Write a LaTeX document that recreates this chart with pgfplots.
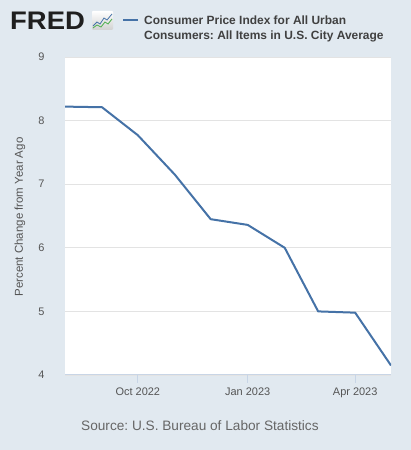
\documentclass[border=0pt]{standalone}
\usepackage{pgfplots}
\pgfplotsset{compat=1.18}
\usepackage{fontspec}
\setmainfont{Liberation Sans}
\frenchspacing
\definecolor{bgcol}{HTML}{E1E9F0}
\definecolor{linecol}{HTML}{4572A7}
\definecolor{gridcol}{HTML}{E3E3E3}
\definecolor{axcol}{HTML}{C8D5E6}
\definecolor{txtcol}{HTML}{555555}
\definecolor{legcol}{HTML}{404040}
\definecolor{srccol}{HTML}{666666}
\begin{document}
\begin{tikzpicture}
\useasboundingbox (0,0) rectangle (411bp,450bp);
\fill[bgcol] (0,0) rectangle (411bp,450bp);
% FRED logo
\node[anchor=base west, inner sep=0pt, text=black!88, font=\fontsize{25.5}{25}\selectfont\bfseries, xscale=1.08] at (10bp,420bp) {FRED};
\shade[top color=white, bottom color=black!18, rounded corners=1bp] (92bp,420bp) rectangle (113bp,439bp);
\draw[linecol, line width=0.8bp] (93bp,424bp) -- (97bp,428bp) -- (100bp,426bp) -- (104bp,432bp) -- (107bp,430bp) -- (112bp,436bp);
\draw[green!55!black!70, line width=0.8bp] (93bp,422bp) -- (97bp,425bp) -- (101bp,423bp) -- (105bp,428bp) -- (108bp,426bp) -- (112bp,431bp);
% legend
\draw[linecol, line width=2bp] (123bp,430bp) -- (138bp,430bp);
\node[anchor=base west, inner sep=0pt, text=legcol, font=\fontsize{12}{14}\selectfont\bfseries] at (144bp,425bp) {Consumer Price Index for All Urban};
\node[anchor=base west, inner sep=0pt, text=legcol, font=\fontsize{12}{14}\selectfont\bfseries] at (144bp,410.7bp) {Consumers: All Items in U.S. City Average};
% source
\node[anchor=base west, inner sep=0pt, text=srccol, font=\fontsize{13.7}{15}\selectfont] at (81bp,19.5bp) {Source: U.S. Bureau of Labor Statistics};
% y label
\node[rotate=90, anchor=center, inner sep=0pt, text=txtcol, font=\fontsize{11.5}{13}\selectfont] at (20bp,233bp) {Percent Change from Year Ago};
\begin{axis}[
  at={(65bp,75bp)}, anchor=south west,
  scale only axis, width=326bp, height=318bp,
  xmin=0, xmax=273, ymin=4, ymax=9,
  axis background/.style={fill=white},
  xtick={61,153,243},
  xticklabels={Oct 2022,Jan 2023,Apr 2023},
  ytick={4,5,6,7,8,9},
  ymajorgrids,
  grid style={gridcol, line width=0.9bp},
  axis x line*=bottom, axis y line*=left,
  x axis line style={axcol, line width=1bp},
  y axis line style={draw=none},
  xtick style={axcol, line width=1bp},
  ytick style={draw=none},
  tick align=outside,
  major tick length=8bp,
  /pgf/number format/assume math mode=true,
  ticklabel style={font=\fontsize{11}{13}\selectfont, text=txtcol},
  xticklabel style={yshift=-1bp},
  yticklabel style={xshift=-9bp},
  clip=true,
]
\addplot[linecol, line width=2bp, line join=round] coordinates {
(0,8.22) (31,8.21) (61,7.77) (92,7.15) (122,6.45) (153,6.36) (184,6.00) (212,5.00) (243,4.98) (273,4.15)
};
\end{axis}
\end{tikzpicture}
\end{document}
